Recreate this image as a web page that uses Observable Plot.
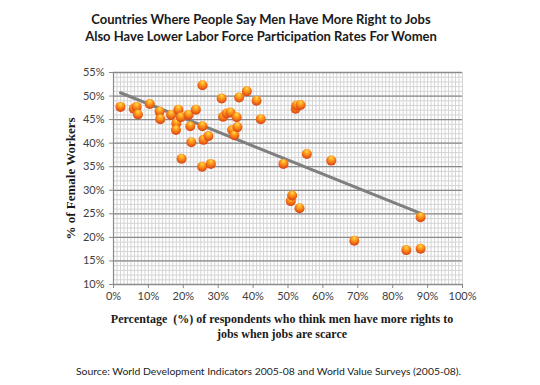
<!DOCTYPE html>
<html><head><meta charset="utf-8">
<script src="https://cdn.jsdelivr.net/npm/d3@7"></script>
<script src="https://cdn.jsdelivr.net/npm/@observablehq/plot@0.6"></script>
<style>
body{margin:0;background:#fff;width:540px;height:385px;overflow:hidden;}
#title{height:50px;box-sizing:border-box;padding-top:11px;font-family:Lato,sans-serif;font-weight:bold;font-size:13px;line-height:17px;text-align:center;width:522px;color:#1a1a1a;}
#chart svg{display:block;}
#source{padding-top:14px;font-family:Lato,sans-serif;font-size:10.4px;line-height:14px;text-align:center;width:537px;color:#222;}
</style></head><body>
<div id="title">Countries Where People Say Men Have More Right to Jobs<br>Also Have Lower Labor Force Participation Rates For Women</div>
<div id="chart"></div>
<div id="source">Source: World Development Indicators 2005-08 and World Value Surveys (2005-08).</div>
<script>
// % of respondents who think men have more rights to jobs
const menRightPct = [2.0, 5.8, 6.6, 7.0, 10.4, 13.2, 13.4, 16.5, 18.6, 18.0, 17.9, 19.3, 21.5, 22.0, 22.3, 19.5, 23.6,
  25.5, 25.5, 25.8, 27.2, 25.4, 27.9, 31.0, 31.4, 32.4, 33.5, 34.0, 34.6, 35.3, 35.5, 36.0, 38.2, 41.0, 42.2,
  48.7, 50.8, 51.2, 53.3, 52.2, 52.4, 53.6, 55.4, 62.4, 69.0, 83.9, 88.0, 88.0];
// % of female workers
const femaleWorkersPct = [47.7, 47.3, 47.7, 46.1, 48.3, 46.7, 45.1, 46.0, 47.1, 44.2, 42.8, 45.5, 46.0, 43.6, 40.2, 36.7, 47.1,
  52.3, 43.6, 40.7, 41.5, 35.0, 35.6, 49.5, 45.6, 46.3, 46.5, 42.8, 41.7, 45.5, 43.4, 49.7, 51.0, 49.0, 45.1,
  35.6, 27.7, 28.9, 26.2, 47.3, 48.0, 48.1, 37.7, 36.3, 19.3, 17.3, 17.6, 24.3];
// trend line end points
const trendX = [2.0, 88.0];
const trendY = [50.7, 25.1];

const xTicks = d3.range(0, 101, 10);
const yTicks = d3.range(10, 56, 5);
const xMinor = d3.range(0, 101, 1);
const yMinor = d3.range(10, 56, 1);

const yLabel = "% of Female Workers";
const xLabel = "Percentage  (%) of respondents who think men have more rights to\njobs when jobs are scarce";

const points = menRightPct.map((x, i) => ({x, y: femaleWorkersPct[i]}));
const trend = trendX.map((x, i) => ({x, y: trendY[i]}));
const pct = d => d + "%";

const svg = Plot.plot({
  width: 540,
  height: 300,
  marginTop: 22,
  marginBottom: 66,
  marginLeft: 113,
  marginRight: 78,
  style: {fontFamily: "Lato, sans-serif", fontSize: "11px", color: "#404040", background: "white"},
  x: {domain: [0, 100]},
  y: {domain: [10, 55]},
  marks: [
    Plot.gridX(xMinor, {stroke: "#d4d4d4", strokeOpacity: 1, strokeWidth: 1}),
    Plot.gridY(yMinor, {stroke: "#d4d4d4", strokeOpacity: 1, strokeWidth: 1}),
    Plot.gridY(yTicks, {stroke: "#8a8a8a", strokeOpacity: 1, strokeWidth: 1.3}),
    Plot.ruleX([0], {stroke: "#8a8a8a", strokeWidth: 1.2}),
    Plot.ruleY([10], {stroke: "#8a8a8a", strokeWidth: 1.2}),
    Plot.axisX(xTicks, {tickFormat: pct, tickSize: 4, tickPadding: 4, stroke: "#8a8a8a", label: null, fill: "#404040"}),
    Plot.axisY(yTicks, {tickFormat: pct, tickSize: 4, tickPadding: 5, stroke: "#8a8a8a", label: null, fill: "#404040"}),
    Plot.line(trend, {x: "x", y: "y", stroke: "#7f7f7f", strokeWidth: 3}),
    Plot.dot(points, {x: "x", y: "y", r: 5, fill: "url(#ball)", stroke: "none"}),
    Plot.text([yLabel], {frameAnchor: "left", textAnchor: "middle", rotate: -90, dx: -43, fontFamily: "Liberation Serif, serif", fontWeight: "bold", fontSize: 13, fill: "#1a1a1a"}),
    Plot.text([xLabel], {frameAnchor: "bottom", lineAnchor: "middle", dy: 41, dx: -6, lineHeight: 1.25, fontFamily: "Liberation Serif, serif", fontWeight: "bold", fontSize: 12, fill: "#1a1a1a"})
  ]
});

const defs = d3.select(svg).insert("defs", ":first-child");
const g = defs.append("radialGradient").attr("id", "ball")
  .attr("cx", "0.5").attr("cy", "0.35").attr("r", "0.65").attr("fx", "0.5").attr("fy", "0.2");
g.append("stop").attr("offset", "0").attr("stop-color", "#ffe04a");
g.append("stop").attr("offset", "0.4").attr("stop-color", "#ff9a1c");
g.append("stop").attr("offset", "1").attr("stop-color", "#d93e12");

document.getElementById("chart").appendChild(svg);
</script>
</body></html>
